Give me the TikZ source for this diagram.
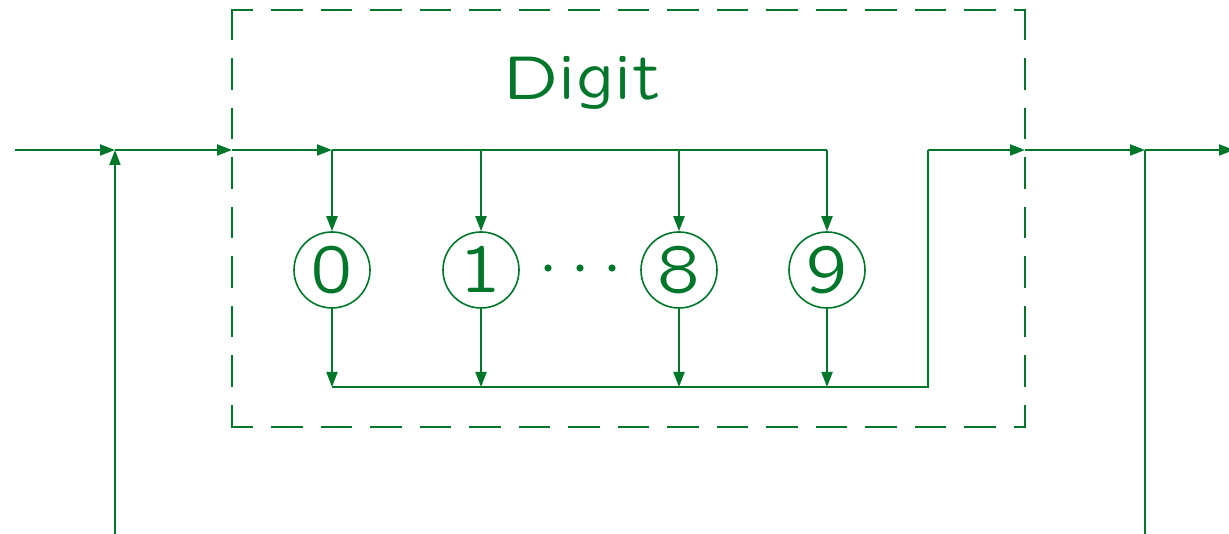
\documentclass[tikz,border=0pt]{standalone}
\usetikzlibrary{arrows.meta}
\definecolor{dg}{RGB}{0,118,42}
\font\titlefont=lcmss8 at 62pt
\font\digfont=lcmss8 at 68pt
\begin{document}
\begin{tikzpicture}[x=1pt,y=-1pt,line width=2pt,draw=dg,
  tip/.style={-{Triangle[length=15pt,width=11pt]}},
  digitnode/.style={circle,draw=dg,line width=1.6pt,minimum size=76pt,inner sep=0pt,text=dg,font=\digfont},
  hbox/.style={dash pattern=on 29.5pt off 20pt,dash phase=9.5pt,line width=2pt,line cap=rect},
  vbox/.style={dash pattern=on 29.5pt off 20pt,dash phase=0pt,line width=2pt,line cap=rect}]
\useasboundingbox (0,0) rectangle (1229,534);
% dashed box
\coordinate (tl) at (232,10);
\coordinate (tr) at (1025,10);
\coordinate (bl2) at (232,427);
\coordinate (br2) at (1025,427);
\draw[hbox] (tl) -- (tr);
\draw[hbox] (bl2) -- (br2);
\draw[vbox] (tl) -- (bl2);
\draw[vbox] (tr) -- (br2);
\node[text=dg,font=\titlefont,anchor=base] (title) at (582,100) {Digit};
% coordinates
\coordinate (in) at (15,150);
\coordinate (j1) at (115,150);
\coordinate (bl) at (232,150);
\coordinate (b0) at (332,150);
\coordinate (b1) at (481,150);
\coordinate (b8) at (679,150);
\coordinate (b9) at (827,150);
\coordinate (r) at (928,150);
\coordinate (br) at (1025,150);
\coordinate (j2) at (1145,150);
\coordinate (out) at (1234,150);
\coordinate (lb) at (115,540);
\coordinate (rb) at (1145,540);
\coordinate (c0) at (332,387);
\coordinate (c1) at (481,387);
\coordinate (c8) at (679,387);
\coordinate (c9) at (827,387);
\coordinate (rj) at (928,387);
% digit nodes
\node[digitnode] (n0) at (332,270) {0};
\node[digitnode] (n1) at (481,270) {1};
\node[digitnode] (n8) at (679,270) {8};
\node[digitnode] (n9) at (827,270) {9};
\foreach \x in {548,580,612} \fill[dg] (\x,268) circle (3.6pt);
% main line
\draw[tip] (in) -- (j1);
\draw[tip] (j1) -- (bl);
\draw[tip] (bl) -- (b0);
\draw (b0) -- (b9);
\draw[tip] (lb) -- (j1);
\foreach \i in {0,1,8,9}{
  \draw[tip] (b\i) -- (n\i);
  \draw[tip] (n\i) -- (c\i);
}
\draw (c0) -- (rj) -- (r);
\draw[tip] (r) -- (br);
\draw[tip] (br) -- (j2);
\draw[tip] (j2) -- (out);
\draw (j2) -- (rb);
\end{tikzpicture}
\end{document}
